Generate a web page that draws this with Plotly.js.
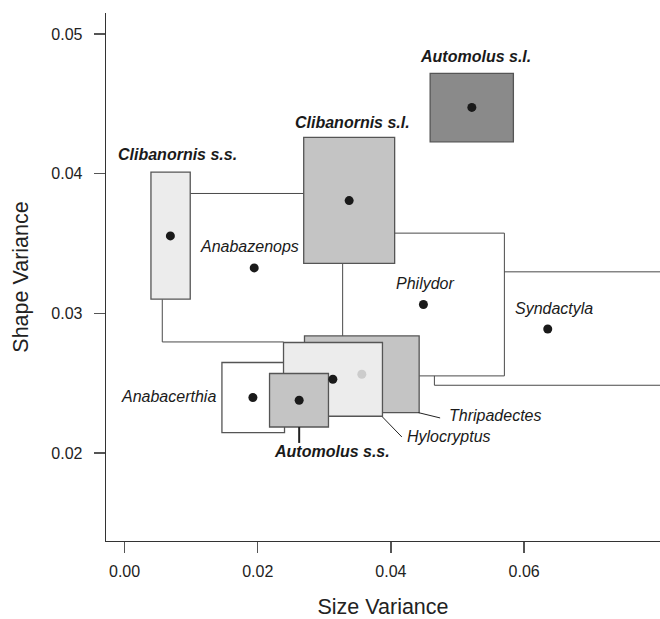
<!DOCTYPE html>
<html>
<head>
<meta charset="utf-8">
<script src="https://cdn.plot.ly/plotly-3.0.1.min.js"></script>
<style>html,body{margin:0;padding:0;background:#fff;}#chart{width:660px;height:619px;}</style>
</head>
<body>
<div id="chart"></div>
<script>
// ---- data ----
const taxa      = ["Clibanornis s.s.", "Clibanornis s.l.", "Automolus s.l.", "Anabazenops", "Philydor", "Syndactyla", "Anabacerthia", "Automolus s.s.", "Hylocryptus", "Thripadectes"];
const meanX     = [0.00688, 0.03373, 0.05215, 0.01947, 0.04488, 0.06355, 0.01927, 0.02622, 0.03128, 0.03563];
const meanY     = [0.03554, 0.03807, 0.04474, 0.03325, 0.03063, 0.02888, 0.02397, 0.02378, 0.02528, 0.02564];
const dotColor  = ["#1a1a1a","#1a1a1a","#1a1a1a","#1a1a1a","#1a1a1a","#1a1a1a","#1a1a1a","#1a1a1a","#1a1a1a","#cccccc"];

// range boxes (drawn in this order)
const boxTaxa   = ["Clibanornis s.s.", "Clibanornis s.l.", "Automolus s.l.", "Thripadectes", "Anabacerthia", "Hylocryptus", "Automolus s.s."];
const boxX0     = [0.00396, 0.02690, 0.04589, 0.02702, 0.01462, 0.02387, 0.02177];
const boxX1     = [0.00986, 0.04056, 0.05839, 0.04424, 0.02402, 0.03873, 0.03062];
const boxY0     = [0.03101, 0.03357, 0.04228, 0.02289, 0.02146, 0.02263, 0.02186];
const boxY1     = [0.04011, 0.04259, 0.04718, 0.02838, 0.02648, 0.02791, 0.02569];
const boxFill   = ["#ececec", "#c4c4c4", "#8a8a8a", "#c4c4c4", "#ffffff", "#ececec", "#c4c4c4"];

// connector segments (x0, y0, x1, y1)
const segX0 = [0.00986, 0.00566, 0.00566, 0.03275, 0.04056, 0.05704, 0.05704, 0.04653, 0.04653, 0.05704];
const segY0 = [0.03858, 0.03101, 0.02795, 0.03357, 0.03574, 0.03574, 0.02552, 0.02552, 0.02485, 0.03297];
const segX1 = [0.02690, 0.00566, 0.02387, 0.03275, 0.05704, 0.05704, 0.04424, 0.04653, 0.09000, 0.09000];
const segY1 = [0.03858, 0.02795, 0.02795, 0.02838, 0.03574, 0.02552, 0.02552, 0.02485, 0.02485, 0.03297];

// leader lines (x0, y0, x1, y1)
const leadX0 = [0.02622, 0.04413, 0.03873];
const leadY0 = [0.02186, 0.02289, 0.02258];
const leadX1 = [0.02622, 0.04739, 0.04164];
const leadY1 = [0.02072, 0.02251, 0.02115];
const leadW  = [2, 1, 1];

// labels
const labText  = ["Clibanornis s.s.", "Clibanornis s.l.", "Automolus s.l.", "Anabazenops", "Philydor", "Syndactyla", "Anabacerthia", "Automolus s.s.", "Hylocryptus", "Thripadectes"];
const labBold  = [true, true, true, false, false, false, false, true, false, false];
const labX     = [0.00799, 0.03430, 0.05276, 0.01869, 0.04506, 0.06450, 0.01396, 0.03113, 0.04213, 0.04839];
const labY     = [0.04061, 0.04292, 0.04763, 0.03404, 0.03137, 0.02958, 0.02401, 0.02012, 0.02115, 0.02265];
const labXAnc  = ["center","center","center","center","center","center","right","center","left","left"];
const labYAnc  = ["bottom","bottom","bottom","bottom","bottom","bottom","middle","middle","middle","middle"];

const xTicks = [0.00, 0.02, 0.04, 0.06];
const yTicks = [0.02, 0.03, 0.04, 0.05];

// ---- build ----
const shapes = [];
for (let i = 0; i < segX0.length; i++) {
  shapes.push({type:"line", xref:"x", yref:"y", layer:"below",
    x0:segX0[i], y0:segY0[i], x1:segX1[i], y1:segY1[i],
    line:{color:"#4a4a4a", width:1}});
}
for (let i = 0; i < boxX0.length; i++) {
  shapes.push({type:"rect", xref:"x", yref:"y", layer:"below",
    x0:boxX0[i], y0:boxY0[i], x1:boxX1[i], y1:boxY1[i],
    fillcolor:boxFill[i], line:{color:"#555555", width:1.3}});
}
for (let i = 0; i < leadX0.length; i++) {
  shapes.push({type:"line", xref:"x", yref:"y", layer:"above",
    x0:leadX0[i], y0:leadY0[i], x1:leadX1[i], y1:leadY1[i],
    line:{color:"#222222", width:leadW[i]}});
}

const annotations = labText.map((t, i) => ({
  x: labX[i], y: labY[i], xref:"x", yref:"y",
  text: labBold[i] ? "<b><i>" + t + "</i></b>" : "<i>" + t + "</i>",
  showarrow:false, xanchor:labXAnc[i], yanchor:labYAnc[i],
  font:{family:"Liberation Sans, Arial, sans-serif", size:16, color:"#1a1a1a"}
}));

const traces = [{
  type:"scatter", mode:"markers", x:meanX, y:meanY, text:taxa,
  marker:{size:9, color:dotColor}, hoverinfo:"text", showlegend:false
}];

const layout = {
  width:660, height:619,
  margin:{l:106, r:0, t:13, b:78},
  paper_bgcolor:"#ffffff", plot_bgcolor:"#ffffff",
  font:{family:"Liberation Sans, Arial, sans-serif", color:"#222222"},
  showlegend:false,
  xaxis:{
    range:[-0.00279, 0.08041], tickvals:xTicks, tickformat:".2f",
    showgrid:false, zeroline:false, showline:true, linecolor:"#333333", linewidth:1.3,
    ticks:"outside", ticklen:11, tickcolor:"#555555", tickwidth:1.3,
    tickfont:{size:16, color:"#222222"}, ticklabelstandoff:4,
    title:{text:"Size Variance", font:{size:21.5, color:"#222222"}, standoff:22}
  },
  yaxis:{
    range:[0.01370, 0.05150], tickvals:yTicks, tickformat:".2f",
    showgrid:false, zeroline:false, showline:true, linecolor:"#333333", linewidth:1.3,
    ticks:"outside", ticklen:11, tickcolor:"#555555", tickwidth:1.3,
    tickfont:{size:16, color:"#222222"}, ticklabelstandoff:8,
    title:{text:"Shape Variance", font:{size:21.5, color:"#222222"}, standoff:16}
  },
  shapes:shapes,
  annotations:annotations
};

Plotly.newPlot("chart", traces, layout, {staticPlot:true, displayModeBar:false});
</script>
</body>
</html>
